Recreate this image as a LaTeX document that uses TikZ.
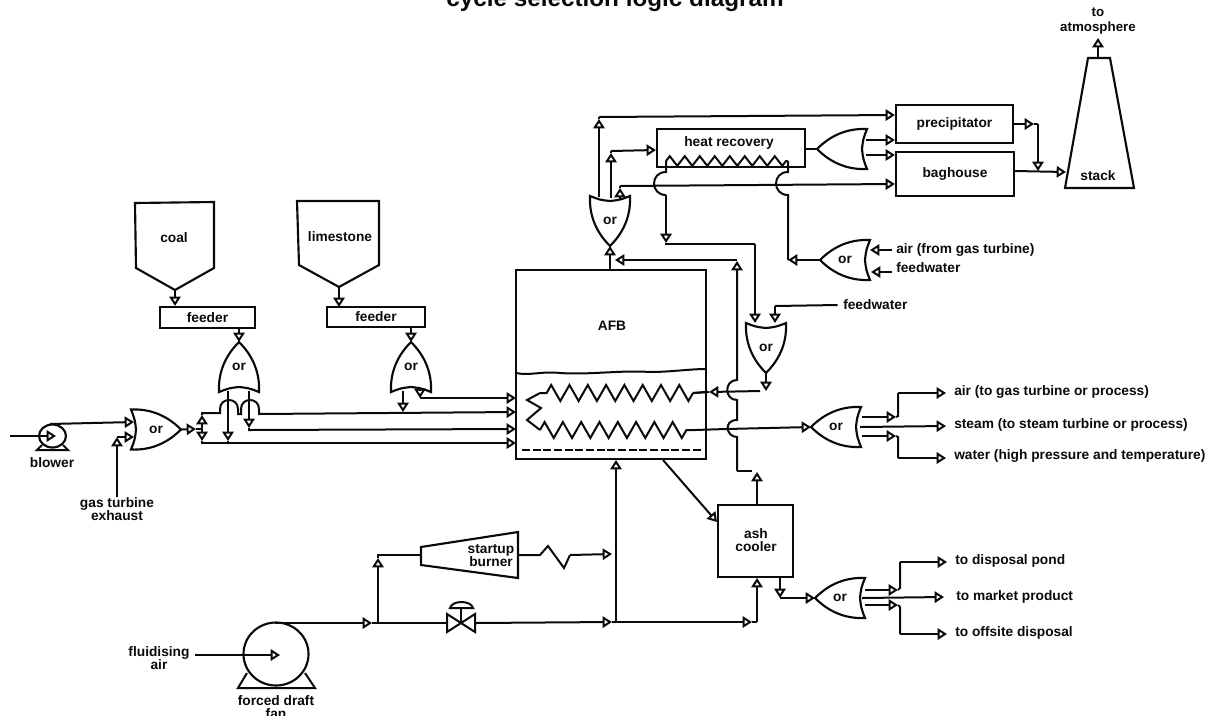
\documentclass[tikz,border=0pt]{standalone}
\usepackage{fontspec}
\setmainfont{Liberation Sans}
\usetikzlibrary{arrows.meta,decorations.pathmorphing,shapes.geometric}
\def\ux{0.75pt}
\definecolor{ink}{HTML}{0A0A0A}
\tikzset{
  flowtip/.tip={Triangle[open,length=7pt,width=8.5pt]},
  ln/.style={line width=1.5pt,line join=miter,draw=ink},
  fl/.style={ln,-flowtip},
  lab/.style={font=\bfseries\fontsize{10.3}{9.8}\selectfont,text=ink,inner sep=0pt},
  labl/.style={lab,anchor=west},
  box/.style={draw=ink,line width=1.6pt,inner sep=0pt,font=\bfseries\fontsize{10.3}{9.8}\selectfont,text=ink,align=center},
  zig/.style={ln,decorate,decoration={zigzag,segment length=#1*\ux,amplitude=6pt}},
}
\newcommand{\orgate}[5]{% name, cx, cy, rotation, text
  \begin{scope}[shift={(#2,#3)},rotate=#4]
    \draw[ln,line width=1.6pt] (25,0) .. controls (13,-12) and (-3,-21) .. (-25,-20)
      .. controls (-21,-10) and (-21,-9) .. (-20,0) .. controls (-21,9) and (-21,10) .. (-25,20)
      .. controls (-3,21) and (13,12) .. cycle;
    \coordinate (#1-t) at (25,0);
  \end{scope}
  \node[lab] (#1) at (#2,#3) {#5};
}
\begin{document}
\begin{tikzpicture}[x=\ux,y=-\ux]
\useasboundingbox (0,0) rectangle (1212,715);
\node[anchor=base,inner sep=0pt,text=ink,font=\bfseries\fontsize{18.2}{20}\selectfont] (title) at (615,6) {cycle selection logic diagram};

% === hoppers and feeders
\draw[ln,line width=1.6pt] (135,203) -- (214,202) -- (214,268) -- (175,290) coordinate (coalout) -- (136,268) -- cycle;
\node[lab] (coal) at (174,238) {coal};
\draw[ln,line width=1.6pt] (297,201) -- (379,201) -- (379,265) -- (339,287) coordinate (limeout) -- (299,265) -- cycle;
\node[lab] (lime) at (340,237) {limestone};
\node[box,minimum width=95*\ux,minimum height=21*\ux] (feeder1) at (207.5,317.5) {feeder};
\node[box,minimum width=98*\ux,minimum height=20*\ux] (feeder2) at (376,317) {feeder};
\draw[fl] (coalout) -- (coalout |- feeder1.north);
\coordinate (f2in) at (339,307);
\draw[fl] (limeout) -- (f2in);

% === gates
\orgate{g0}{156}{429.5}{0}{or}
\orgate{g1}{239}{367}{90}{or}
\orgate{g2}{411}{367}{90}{or}
\orgate{g3}{610}{221}{-90}{or}
\orgate{g4}{766}{348}{-90}{or}
\orgate{g5}{842}{149}{180}{}
\orgate{g6}{845}{260}{180}{or}
\orgate{g7}{836}{427}{180}{or}
\orgate{g8}{840}{598}{180}{or}

\coordinate (f1o) at (239,328);
\coordinate (f2o) at (411,327);
\draw[fl] (f1o) -- (g1-t);
\draw[fl] (f2o) -- (g2-t);

% === blower
\node[draw=ink,line width=1.6pt,ellipse,inner sep=0pt,minimum width=27*\ux,minimum height=23*\ux] (blowerc) at (52.5,436) {};
\draw[ln] (42,445) -- (37,450) -- (68,450) -- (63,445);
\node[lab] (blower) at (52,463) {blower};
\coordinate (bin) at (10,436);
\coordinate (bcen) at (56,436);
\draw[fl] (bin) -- (bcen);
\coordinate (g0i1) at (134,422);
\coordinate (g0i2) at (134,437);
\coordinate (btop) at (50,424);
\draw[fl] (btop) -- (g0i1);
\node[lab,align=center] (gte) at (117,509) {gas turbine\\exhaust};
\coordinate (gtc) at (117,437);
\draw[fl] (gte.north -| gtc) -- (gtc);
\draw[fl] (gtc) -- (g0i2);

% === four feed lines
\coordinate (j1) at (202,429);
\coordinate (j0) at (196,429);
\draw[fl] (g0-t) -- (j0);
\draw[ln] (j0) -- (j1);
\coordinate (l1) at (202,415);
\coordinate (l4) at (202,441);
\draw[fl] (j1) -- (l1);
\draw[fl] (j1) -- (l4);
\coordinate (r1) at (516,398);
\coordinate (r2) at (516,412);
\coordinate (r3) at (516,429);
\coordinate (r4) at (516,443);
\draw[ln,-flowtip] (l1) -- (202,413) -- (220,413) -- (220,409) .. controls (220,397) and (238,397) .. (238,409) -- (238,414) -- (241,414) -- (241,409) .. controls (241,397) and (259,397) .. (259,409) -- (259,414) -- (r2);
\draw[fl] (l4) -- (202,443) -- (r4);
\coordinate (g1a) at (228,391);
\coordinate (g1b) at (249,391);
\draw[fl] (g1a) -- (228,441);
\draw[ln] (228,441) -- (228,443);
\draw[fl] (g1b) -- (249,428);
\draw[fl] (249,428) -- (249,430) -- (r3);
\coordinate (g2a) at (403,391);
\coordinate (g2b) at (420,391);
\draw[fl] (g2a) -- (403,412);
\draw[fl] (g2b) -- (420,398);
\draw[fl] (420,398) -- (r1);

% === reactor
\node[box,minimum width=190*\ux,minimum height=189*\ux] (afb) at (611,364.5) {};
\node[lab] (afbt) at (612,326) {AFB};
\draw[ln] (516,373) .. controls (530,376) and (540,371) .. (560,373) .. controls (590,375) and (620,370) .. (650,372) .. controls (670,372) and (690,369) .. (706,369);
\draw[ln,dash pattern=on 6pt off 2pt] (522,450) -- (703,450);
\draw[zig=18.3] (693,393) -- (540,393);
\draw[ln] (540,393) -- (527,400) -- (541,408) -- (527,420) -- (540,430);
\draw[zig=18.3] (540,430) -- (695,430);
\draw[ln] (693,393) -- (706,392);

% === right-hand connections of reactor
\coordinate (g4o) at (766,391);
\draw[fl] (g4-t) -- (g4o);
\draw[fl] (760,391) -- (709,392);
\draw[ln] (709,392) -- (693,393);
\coordinate (cout) at (695,430);
\draw[ln] (cout) -- (726,429);
\draw[fl] (726,429) -- (g7-t);
% vertical ash return
\coordinate (v1) at (737,261);
\coordinate (v2) at (737,471);
\draw[fl] (v2) -- (737,437) .. controls (726,437) and (723,420) .. (737,420) -- (737,400) .. controls (724,400) and (724,380) .. (737,380) -- (v1);
\coordinate (g3i) at (615,260);
\draw[fl] (737,260) -- (g3i);
\coordinate (afbt2) at (610,270);
\draw[fl] (afbt2) -- (g3-t);

% === gate 3 outlets
\coordinate (a1) at (599,197);
\coordinate (a2) at (611,198);
\coordinate (a3) at (620,199);
\draw[fl] (a1) -- (599,119);
\draw[ln] (599,119) -- (599,117);
\draw[fl] (a2) -- (611,153);
\draw[ln] (611,153) -- (611,151);
\draw[fl] (a3) -- (620,188);
\draw[ln] (620,188) -- (620,186);

% === heat recovery
\node[box,minimum width=148*\ux,minimum height=38*\ux] (hr) at (731,148) {};
\node[lab] (hrt) at (729,143) {heat recovery};
\draw[ln,decorate,decoration={zigzag,segment length=15*\ux,amplitude=3.6pt}] (666,161) -- (788,161);
\draw[ln] (788,161) -- (788,172) .. controls (772,172) and (772,195) .. (788,195) -- (788,260);
\draw[ln] (666,161) -- (666,172) .. controls (650,172) and (650,195) .. (666,195);
\coordinate (hl) at (666,243);
\draw[fl] (666,195) -- (hl);
\coordinate (g4i1) at (755,323);
\coordinate (g4i2) at (775,323);
\draw[ln] (hl) -- (666,244) -- (755,244);
\draw[fl] (755,244) -- (g4i1);
\draw[fl] (g6-t) -- (788,260);
\node[labl] (fw2) at (843,305) {feedwater};
\draw[ln] ([xshift=-4pt]fw2.west) -- (775,306);
\draw[fl] (775,306) -- (g4i2);

% top lines to cleanup
\node[box,minimum width=117*\ux,minimum height=38*\ux] (prec) at (954.5,124) {precipitator};
\node[box,minimum width=118*\ux,minimum height=44*\ux] (bag) at (955,174) {baghouse};
\draw[fl] (599,117) -- (prec.west |- 0,115);
\draw[fl] (611,151) -- (hr.west |- 0,150);
\draw[fl] (620,186) -- (bag.west |- 0,184);
\draw[ln] (hr.east |- 0,149) -- (g5-t);
\coordinate (g5a) at (866,140);
\coordinate (g5b) at (866,155);
\draw[fl] (g5a) -- (prec.west |- g5a);
\draw[fl] (g5b) -- (bag.west |- g5b);

% === stack
\draw[ln,line width=1.6pt] (1088,58) -- (1110,58) -- (1134,188) -- (1065,188) -- cycle;
\node[lab] (stack) at (1098,176) {stack};
\coordinate (st) at (1066,172);
\coordinate (stt) at (1098,58);
\node[lab,align=center,font=\bfseries\fontsize{10}{11.25}\selectfont] (atm) at (1098,21.5) {to\\atmosphere};
\draw[fl] (stt) -- (1098,38);
\coordinate (p0) at (1034,124);
\coordinate (p1) at (1038,124);
\coordinate (p2) at (1038,171);
\draw[fl] (prec.east |- p1) -- (p0);
\draw[ln] (p0) -- (p1);
\draw[fl] (p1) -- (p2);
\draw[fl] (bag.east |- p2) -- (st);

% === gate 6 inputs
\node[labl] (air1) at (896,250) {air (from gas turbine)};
\node[labl] (fw1) at (896,268) {feedwater};
\draw[fl] (892,250) -- (870,250);
\draw[fl] (892,272) -- (871,272);

% === gate 7 outputs
\node[labl] (o1) at (954,392) {air (to gas turbine or process)};
\node[labl] (o2) at (954,425) {steam (to steam turbine or process)};
\node[labl] (o3) at (954,456) {water (high pressure and temperature)};
\coordinate (c1) at (862,417);
\coordinate (c2) at (860,427);
\coordinate (c3) at (862,436);
\draw[fl] (c1) -- (896,417);
\draw[ln] (896,417) -- (898,416) -- (898,393);
\draw[fl] (898,393) -- (946,393);
\draw[fl] (c2) -- (946,426);
\draw[fl] (c3) -- (896,436);
\draw[ln] (896,436) -- (898,437) -- (898,458);
\draw[fl] (898,458) -- (946,458);

% === ash cooler
\node[box,minimum width=75*\ux,minimum height=72*\ux] (ash) at (755.5,541) {};
\node[lab,align=center] (asht) at (756,540) {ash\\cooler};
\coordinate (ar) at (663,460);
\draw[fl] (ar) -- (717,522);
\draw[fl] (757,505) -- (757,472);
\draw[ln] (752,471) -- (v2);
\coordinate (ab) at (780,577);
\coordinate (ab2) at (780,598);
\draw[fl] (ab) -- (ab2);
\draw[fl] (ab2) -- (g8-t);

% === gate 8 outputs
\node[labl] (d1) at (955,561) {to disposal pond};
\node[labl] (d2) at (956,597) {to market product};
\node[labl] (d3) at (955,633) {to offsite disposal};
\coordinate (e1) at (865,590);
\coordinate (e2) at (862,598);
\coordinate (e3) at (865,605);
\draw[fl] (e1) -- (898,590);
\draw[ln] (898,590) -- (900,588) -- (900,562);
\draw[fl] (900,562) -- (947,562);
\draw[fl] (e2) -- (944,597);
\draw[fl] (e3) -- (898,605);
\draw[ln] (898,605) -- (900,607) -- (900,634);
\draw[fl] (900,634) -- (947,634);

% === fan and air lines
\node[draw=ink,line width=1.6pt,ellipse,inner sep=0pt,minimum width=65*\ux,minimum height=63*\ux] (fan) at (276,654) {};
\draw[ln] (247,673) -- (238,688) -- (315,688) -- (305,673);
\node[lab,align=center] (fant) at (276,707) {forced draft\\fan};
\node[lab,align=center] (fluid) at (159,658) {fluidising\\air};
\coordinate (fc) at (280,655);
\draw[fl] (195,655) -- (fc);
\coordinate (t0) at (275,623);
\coordinate (t1) at (378,623);
\coordinate (t2) at (372,623);
\draw[fl] (t0) -- (t2);
\draw[ln] (t2) -- (t1);
\coordinate (t3) at (378,558);
\draw[fl] (t1) -- (t3);
\draw[ln,line width=1.6pt] (421,547) -- (518,532) -- (518,578) -- (421,565) -- cycle;
\node[lab,align=center] (burner) at (491,556) {startup\\burner};
\draw[ln] (t3) -- (378,555) -- (421,555);
\draw[ln] (518,555) -- (540,555) -- (548,546) -- (564,568) -- (570,555);
\coordinate (m0) at (612,554);
\coordinate (m1) at (616,554);
\draw[fl] (570,555) -- (m0);
\coordinate (m2) at (616,622);
\coordinate (m4) at (612,622);
\draw[ln] (t1) -- (447,623);
\draw[ln] (447,614) -- (475,632) -- (475,614) -- (447,632) -- cycle;
\draw[ln] (461,623) -- (461,608);
\draw[ln] (450,608) .. controls (452,600) and (471,600) .. (473,608) -- cycle;
\draw[fl] (475,623) -- (m4);
\draw[ln] (m4) -- (m2);
\draw[fl] (m2) -- (616,460);
\coordinate (m3) at (757,622);
\coordinate (m5) at (752,622);
\draw[fl] (m2) -- (m5);
\draw[ln] (m5) -- (m3);
\draw[fl] (m3) -- (757,578);
\end{tikzpicture}
\end{document}
